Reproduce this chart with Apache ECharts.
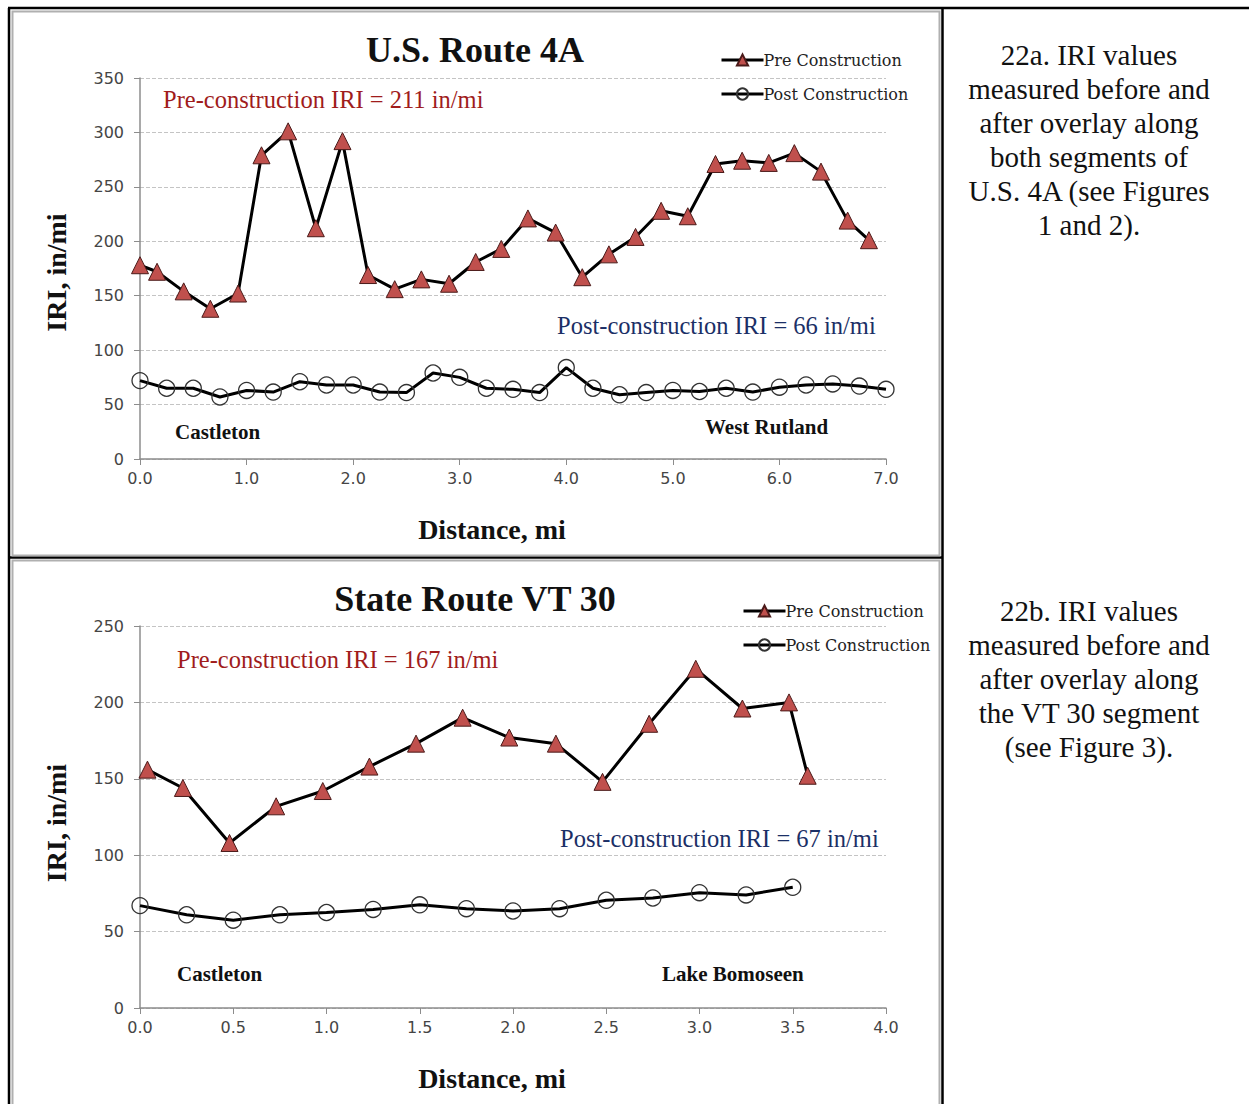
<!DOCTYPE html>
<html>
<head>
<meta charset="utf-8">
<script src="https://cdn.jsdelivr.net/npm/echarts@6/dist/echarts.min.js"></script>
<style>
html,body{margin:0;padding:0;background:#fff;}
#c{width:1249px;height:1104px;}
</style>
</head>
<body>
<div id="c"></div>
<script>
// ---- Chart A: U.S. Route 4A ----
var preAX = [0.0,0.16,0.41,0.66,0.92,1.14,1.39,1.65,1.90,2.14,2.39,2.64,2.90,3.15,3.39,3.64,3.90,4.15,4.40,4.65,4.89,5.14,5.40,5.65,5.90,6.14,6.39,6.64,6.84];
var preAY = [178,172,154,138,152,279,301,212,292,169,156,165,161,181,193,221,208,167,188,204,228,223,271,274,272,281,264,219,201];
var postAX = [0,0.25,0.5,0.75,1,1.25,1.5,1.75,2,2.25,2.5,2.75,3,3.25,3.5,3.75,4,4.25,4.5,4.75,5,5.25,5.5,5.75,6,6.25,6.5,6.75,7];
var postAY = [72,65,65,57,63,61.5,71,68,68,61.5,61,79,75,65,64,61,84,65,59,61,63,62,65,61.5,66,68,69,67,64];
// ---- Chart B: State Route VT 30 ----
var preBX = [0.04,0.23,0.48,0.73,0.98,1.23,1.48,1.73,1.98,2.23,2.48,2.73,2.98,3.23,3.48,3.58];
var preBY = [156,144,108,132,142,158,173,190,177,173,148,186,222,196,200,152];
var postBX = [0,0.25,0.5,0.75,1,1.25,1.5,1.75,2,2.25,2.5,2.75,3,3.25,3.5];
var postBY = [67,61,57.5,61,62.5,64.5,67.5,65,63.5,65,70.5,72,75.5,74,79];
var yTicksA = {min:0,max:350,interval:50};
var yTicksB = {min:0,max:250,interval:50};
var xTicksA = {min:0,max:7,interval:1};
var xTicksB = {min:0,max:4,interval:0.5};
var titles = ['U.S. Route 4A','State Route VT 30'];
var seriesNames = ['Pre Construction','Post Construction'];
var notesA = ['Pre-construction IRI = 211 in/mi','Post-construction IRI = 66 in/mi','Castleton','West Rutland'];
var notesB = ['Pre-construction IRI = 167 in/mi','Post-construction IRI = 67 in/mi','Castleton','Lake Bomoseen'];
var captionA = '22a. IRI values\nmeasured before and\nafter overlay along\nboth segments of\nU.S. 4A (see Figures\n1 and 2).';
var captionB = '22b. IRI values\nmeasured before and\nafter overlay along\nthe VT 30 segment\n(see Figure 3).';

function zip(xs, ys){ return xs.map(function(x,i){return [x, ys[i]];}); }

var SERIF = '"Liberation Serif","Times New Roman",serif';
var chart = echarts.init(document.getElementById('c'), null, {renderer:'svg'});

function xAxis(idx, t){
  return {
    type:'value', gridIndex:idx, min:t.min, max:t.max, interval:t.interval,
    name:'Distance, mi', nameLocation:'middle', nameGap:56,
    nameTextStyle:{fontFamily:SERIF, fontWeight:'bold', fontSize:28, color:'#111', padding:[0,42,0,0]},
    axisLine:{onZero:false, lineStyle:{color:'#8c8c8c', width:1.5}},
    axisTick:{show:true, length:6, lineStyle:{color:'#8c8c8c'}},
    axisLabel:{fontFamily:'"DejaVu Sans",Verdana,sans-serif', fontSize:16, color:'#454545', margin:11,
      formatter:function(v){return v.toFixed(1);}},
    splitLine:{show:false}
  };
}
function yAxis(idx, t, pad){
  return {
    type:'value', gridIndex:idx, min:t.min, max:t.max, interval:t.interval,
    name:'IRI, in/mi', nameLocation:'middle', nameGap:70, nameRotate:90,
    nameTextStyle:{fontFamily:SERIF, fontWeight:'bold', fontSize:28, color:'#111', padding:pad},
    axisLine:{show:true, lineStyle:{color:'#8c8c8c', width:1.5}},
    axisTick:{show:true, length:6, lineStyle:{color:'#8c8c8c'}},
    axisLabel:{fontFamily:'"DejaVu Sans",Verdana,sans-serif', fontSize:16, color:'#454545', margin:16},
    splitLine:{show:true, lineStyle:{color:'#c4c4c4', type:'dashed', width:1}}
  };
}
function preSeries(idx, data){
  return {name:seriesNames[0], type:'line', xAxisIndex:idx, yAxisIndex:idx, data:data,
    symbol:'triangle', symbolSize:17, showAllSymbol:true,
    lineStyle:{color:'#000', width:3},
    itemStyle:{color:'#c0504d', borderColor:'#4a1a19', borderWidth:1},
    emphasis:{disabled:true}, animation:false, z:3};
}
function postSeries(idx, data){
  return {name:seriesNames[1], type:'line', xAxisIndex:idx, yAxisIndex:idx, data:data,
    symbol:'circle', symbolSize:16, showAllSymbol:true,
    lineStyle:{color:'#000', width:3},
    itemStyle:{color:'rgba(255,255,255,0)', borderColor:'#333', borderWidth:1.3},
    emphasis:{disabled:true}, animation:false, z:3};
}
function legend(top, left){
  return {orient:'vertical', left:left, top:top, itemWidth:42, itemHeight:14, itemGap:18,
    data:seriesNames, selectedMode:false,
    lineStyle:{width:3, color:'#000'},
    textStyle:{fontFamily:'"DejaVu Serif",serif', fontSize:16, color:'#222', padding:[0,0,0,-5]}};
}
function note(text, x, y, color, size, bold){
  return {type:'text', left:x, top:y, z:10,
    style:{text:text, fill:color, font:(bold?'bold ':'')+size+'px '+SERIF}};
}
function caption(text, y){
  return {type:'text', x:1089, y:y, z:10,
    style:{text:text, fill:'#111', font:'29px '+SERIF, lineHeight:34, textAlign:'center', textVerticalAlign:'top'}};
}

var red = '#a01c1c', navy = '#1b2f66';
var graphics = [
  // table borders
  {type:'line', shape:{x1:8,y1:8,x2:1249,y2:8}, style:{stroke:'#000', lineWidth:2.5}},
  {type:'line', shape:{x1:9,y1:8,x2:9,y2:1104}, style:{stroke:'#000', lineWidth:2.5}},
  {type:'line', shape:{x1:942.5,y1:8,x2:942.5,y2:1104}, style:{stroke:'#000', lineWidth:2.5}},
  {type:'line', shape:{x1:8,y1:557.5,x2:942,y2:557.5}, style:{stroke:'#000', lineWidth:2.5}},
  // chart frames
  {type:'rect', shape:{x:12.5,y:11.5,width:927,height:544}, style:{fill:'none', stroke:'#b0b0b0', lineWidth:2}},
  {type:'rect', shape:{x:12.5,y:560.5,width:927,height:560}, style:{fill:'none', stroke:'#b0b0b0', lineWidth:2}},
  // annotations chart A
  note(notesA[0], 163, 87, red, 24.5, false),
  note(notesA[1], 557, 313, navy, 24.5, false),
  note(notesA[2], 175, 421, '#111', 21, true),
  note(notesA[3], 705, 416, '#111', 21, true),
  // annotations chart B
  note(notesB[0], 177, 647, red, 24.5, false),
  note(notesB[1], 560, 826, navy, 24.5, false),
  note(notesB[2], 177, 963, '#111', 21, true),
  note(notesB[3], 662, 963, '#111', 21, true),
  // captions
  caption(captionA, 38),
  caption(captionB, 594)
];

var option = {
  backgroundColor:'#fff',
  animation:false,
  title:[
    {text:titles[0], left:470, top:27, textAlign:'center', textStyle:{fontFamily:SERIF, fontWeight:'bold', fontSize:36, color:'#111'}},
    {text:titles[1], left:470, top:576, textAlign:'center', textStyle:{fontFamily:SERIF, fontWeight:'bold', fontSize:36, color:'#111'}}
  ],
  legend:[legend(47, 715), legend(598, 737)],
  grid:[
    {left:140, top:78, width:746, height:381, containLabel:false},
    {left:140, top:626, width:746, height:382, containLabel:false}
  ],
  xAxis:[xAxis(0, xTicksA), xAxis(1, xTicksB)],
  yAxis:[yAxis(0, yTicksA, [0,8,0,0]), yAxis(1, yTicksB, [0,12,0,0])],
  series:[
    preSeries(0, zip(preAX, preAY)),
    postSeries(0, zip(postAX, postAY)),
    preSeries(1, zip(preBX, preBY)),
    postSeries(1, zip(postBX, postBY))
  ],
  graphic:graphics
};
chart.setOption(option);
</script>
</body>
</html>
